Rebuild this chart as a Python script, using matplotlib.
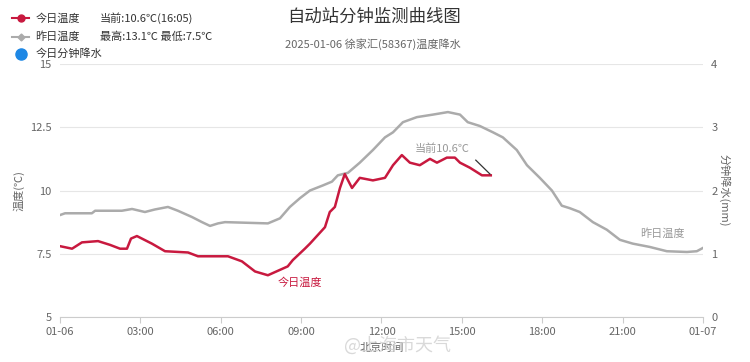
import matplotlib
matplotlib.use("Agg")
import matplotlib.pyplot as plt
from matplotlib.lines import Line2D

plt.rcParams['font.family'] = ['Noto Sans CJK SC', 'DejaVu Sans']

# Today's temperature (hours since 00:00, °C)
today_hours = [0.0, 0.45, 0.82, 1.42, 1.87, 2.24, 2.5, 2.65, 2.87, 3.43, 3.92, 4.78,
               5.15, 6.27, 6.79, 7.28, 7.76, 8.5, 8.69, 9.14, 9.33, 9.89, 10.07, 10.26,
               10.45, 10.63, 10.9, 11.19, 11.68, 12.13, 12.43, 12.76, 13.06, 13.43,
               13.81, 14.07, 14.44, 14.74, 14.93, 15.3, 15.75, 16.08]
today_temp = [7.8, 7.7, 7.95, 8.0, 7.85, 7.7, 7.7, 8.1, 8.2, 7.9, 7.6, 7.55,
              7.4, 7.4, 7.2, 6.8, 6.65, 7.0, 7.25, 7.7, 7.9, 8.55, 9.15, 9.35,
              10.1, 10.65, 10.1, 10.5, 10.4, 10.5, 11.0, 11.4, 11.1, 11.0,
              11.25, 11.1, 11.3, 11.3, 11.1, 10.9, 10.6, 10.6]

# Yesterday's temperature
yest_hours = [0.0, 0.19, 1.19, 1.31, 2.31, 2.69, 3.17, 3.54, 4.03, 4.4, 4.93, 5.3,
              5.6, 5.9, 6.16, 7.76, 8.21, 8.58, 8.96, 9.33, 9.81, 10.15, 10.37,
              10.75, 11.19, 11.68, 12.13, 12.43, 12.8, 13.32, 13.92, 14.48, 14.93,
              15.22, 15.67, 16.16, 16.53, 17.05, 17.43, 17.91, 18.36, 18.73, 19.03,
              19.4, 19.89, 20.41, 20.9, 21.38, 22.01, 22.65, 23.4, 23.77, 24.0]
yest_temp = [9.03, 9.1, 9.1, 9.2, 9.2, 9.27, 9.15, 9.25, 9.35, 9.2, 8.95, 8.75,
             8.6, 8.7, 8.75, 8.7, 8.9, 9.35, 9.7, 10.0, 10.2, 10.35, 10.6,
             10.7, 11.1, 11.6, 12.1, 12.3, 12.7, 12.9, 13.0, 13.1, 13.0,
             12.7, 12.55, 12.3, 12.1, 11.6, 11.0, 10.5, 10.0, 9.4, 9.3,
             9.15, 8.75, 8.45, 8.05, 7.9, 7.77, 7.6, 7.57, 7.6, 7.73]

xtick_pos = [0, 3, 6, 9, 12, 15, 18, 21, 24]
xtick_labels = ['01-06', '03:00', '06:00', '09:00', '12:00', '15:00', '18:00', '21:00', '01-07']
ytick_left = [5, 7.5, 10, 12.5, 15]
ytick_left_labels = ['5', '7.5', '10', '12.5', '15']
ytick_right = [0, 1, 2, 3, 4]

RED = '#c8193f'
GRAY = '#ababab'
BLUE = '#1e88e5'
TICK = '#666666'

fig = plt.figure(figsize=(7.5, 3.62), dpi=100)
ax = fig.add_axes([0.08, 0.1243, 0.8573, 0.6989])

ax.plot(yest_hours, yest_temp, color=GRAY, lw=1.8, zorder=3)
ax.plot(today_hours, today_temp, color=RED, lw=1.8, zorder=4)

ax.set_xlim(0, 24)
ax.set_ylim(5, 15)
ax.set_yticks(ytick_left)
ax.set_yticklabels(ytick_left_labels)
ax.set_xticks(xtick_pos)
ax.set_xticklabels(xtick_labels)
ax.tick_params(axis='y', length=0, labelsize=8, colors=TICK, pad=6)
ax.tick_params(axis='x', length=4, width=0.8, color='#cccccc', labelsize=8, labelcolor=TICK, pad=3)
ax.grid(axis='y', color='#e6e6e6', lw=0.8)
ax.set_axisbelow(True)
for s in ['top', 'left', 'right']:
    ax.spines[s].set_visible(False)
ax.spines['bottom'].set_color('#cccccc')
ax.set_ylabel('温度(℃)', fontsize=8, color=TICK, labelpad=4)
ax.set_xlabel('北京时间', fontsize=8, color=TICK, labelpad=4)

ax2 = ax.twinx()
ax2.set_ylim(0, 4)
ax2.set_yticks(ytick_right)
ax2.tick_params(axis='y', length=0, labelsize=8, colors=TICK, pad=6)
for s in ['top', 'left', 'right', 'bottom']:
    ax2.spines[s].set_visible(False)
ax2.set_ylabel('分钟降水(mm)', fontsize=8, color=TICK, rotation=-90, labelpad=9)

# annotations
ax.text(8.95, 6.35, '今日温度', color=RED, fontsize=8, ha='center', va='center', zorder=5)
ax.text(15.3, 11.65, '当前10.6℃', color='#999999', fontsize=8, ha='right', va='center', zorder=5)
ax.plot([15.52, 16.05], [11.2, 10.65], color='#333333', lw=0.9, zorder=5)
ax.text(23.3, 8.3, '昨日温度', color='#999999', fontsize=8, ha='right', va='center', zorder=5)

# titles
fig.text(0.499, 0.955, '自动站分钟监测曲线图', fontsize=12.5, color='#333333', ha='center', va='center')
fig.text(0.497, 0.878, '2025-01-06 徐家汇(58367)温度降水', fontsize=8, color='#666666', ha='center', va='center')

# legend (manual)
fig.add_artist(Line2D([0.016, 0.039], [0.95, 0.95], color=RED, lw=1.5, transform=fig.transFigure))
fig.add_artist(Line2D([0.0275], [0.95], color=RED, marker='o', markersize=5, linestyle='none',
                      transform=fig.transFigure))
fig.text(0.047, 0.95, '今日温度', fontsize=8, color='#333333', va='center')
fig.text(0.133, 0.95, '当前:10.6℃(16:05)', fontsize=8, color='#333333', va='center')
fig.add_artist(Line2D([0.016, 0.039], [0.898, 0.898], color=GRAY, lw=1.5, transform=fig.transFigure))
fig.add_artist(Line2D([0.0275], [0.898], color=GRAY, marker='D', markersize=3.5, linestyle='none',
                      transform=fig.transFigure))
fig.text(0.047, 0.898, '昨日温度', fontsize=8, color='#333333', va='center')
fig.text(0.133, 0.898, '最高:13.1℃ 最低:7.5℃', fontsize=8, color='#333333', va='center')
fig.add_artist(Line2D([0.0275], [0.851], color=BLUE, marker='o', markersize=8, linestyle='none',
                      transform=fig.transFigure))
fig.text(0.047, 0.851, '今日分钟降水', fontsize=8, color='#333333', va='center')

# watermark
fig.text(0.53, 0.045, '@上海市天气', fontsize=13, color='#d0d0d0', ha='center', va='center', alpha=0.8, zorder=0)

fig.savefig('out.png', dpi=100)
